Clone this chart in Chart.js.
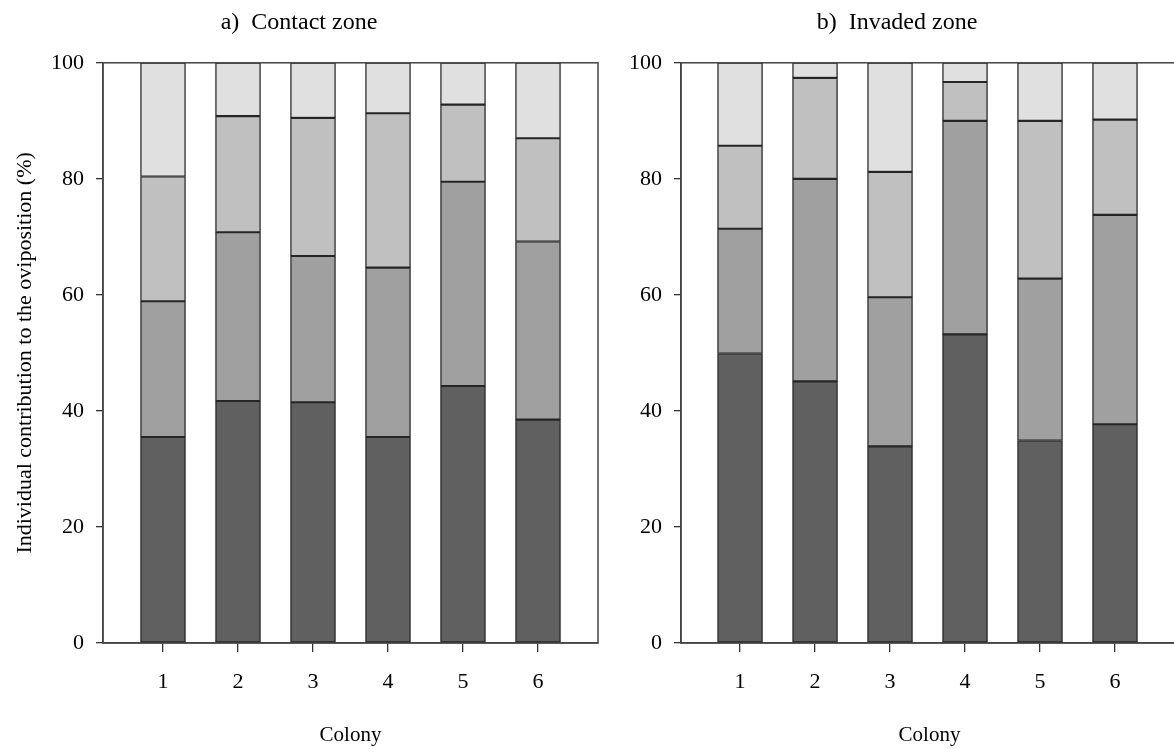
<!DOCTYPE html>
<html>
<head>
<meta charset="utf-8">
<script src="https://cdn.jsdelivr.net/npm/chart.js@4.4.1/dist/chart.umd.min.js"></script>
<style>
  html, body { margin: 0; padding: 0; background: #fff; overflow: hidden; }
  body { width: 1174px; height: 749px; position: relative; }
  .panel { position: absolute; top: 0; height: 749px; }
  #left { left: 0; width: 616px; }
  #right { left: 616px; width: 590px; }
</style>
</head>
<body>
<div class="panel" id="left"><canvas id="contact"></canvas></div>
<div class="panel" id="right"><canvas id="invaded"></canvas></div>
<script>
// colonies on the x axis
var colonies = ['1', '2', '3', '4', '5', '6'];
var yTicks = [0, 20, 40, 60, 80, 100];

// a) contact zone - share of each individual (bottom to top), in %
var contactFirst  = [35.5, 41.7, 41.5, 35.5, 44.3, 38.5];
var contactSecond = [23.4, 29.1, 25.2, 29.2, 35.2, 30.7];
var contactThird  = [21.5, 20.0, 23.8, 26.6, 13.3, 17.8];
var contactFourth = [19.6,  9.2,  9.5,  8.7,  7.2, 13.0];

// b) invaded zone
var invadedFirst  = [49.9, 45.1, 33.9, 53.2, 34.9, 37.7];
var invadedSecond = [21.5, 34.9, 25.7, 36.8, 27.9, 36.1];
var invadedThird  = [14.3, 17.4, 21.6,  6.7, 27.2, 16.4];
var invadedFourth = [14.3,  2.6, 18.8,  3.3, 10.0,  9.8];

var shades = ['#606060', '#a0a0a0', '#c0c0c0', '#e0e0e0'];
var edge = '#262626';
var serif = 'Liberation Serif, Times New Roman, serif';

// draws the box round the plot area
var framePlugin = {
  id: 'frame',
  afterDraw: function(chart) {
    var a = chart.chartArea, ctx = chart.ctx;
    ctx.save();
    ctx.strokeStyle = '#444';
    ctx.lineWidth = 1.5;
    ctx.strokeRect(a.left, a.top, a.right - a.left, a.bottom - a.top);
    ctx.restore();
  }
};

function makeSets(series) {
  return series.map(function(vals, i) {
    return {
      data: vals,
      backgroundColor: shades[i],
      borderColor: edge,
      borderWidth: 1.4,
      borderSkipped: false,
      barThickness: 45
    };
  });
}

function makeChart(id, title, series, opts) {
  var ctx = document.getElementById(id).getContext('2d');
  return new Chart(ctx, {
    type: 'bar',
    data: { labels: colonies, datasets: makeSets(series) },
    plugins: [framePlugin],
    options: {
      responsive: true,
      maintainAspectRatio: false,
      animation: false,
      layout: { padding: { left: 0, right: opts.padRight, top: 0, bottom: 0 } },
      plugins: {
        legend: { display: false },
        tooltip: { enabled: false },
        title: {
          display: true,
          text: title,
          color: '#000',
          font: { family: serif, size: 24, weight: 'normal' },
          padding: { top: 8, bottom: 26 }
        }
      },
      scales: {
        x: {
          type: 'linear',
          stacked: true,
          offset: false,
          min: opts.xMin,
          max: opts.xMax,
          afterBuildTicks: function(scale) {
            scale.ticks = colonies.map(function(c) { return { value: +c }; });
          },
          afterFit: function(scale) { scale.height = 106; },
          ticks: {
            color: '#000',
            font: { family: serif, size: 22 },
            padding: 17,
            callback: function(v) { return String(v); }
          },
          grid: { drawOnChartArea: false, offset: false, tickLength: 9, color: '#333', lineWidth: 1.3 },
          border: { color: '#444', width: 1.5 },
          title: {
            display: true,
            text: 'Colony',
            color: '#000',
            font: { family: serif, size: 21 },
            padding: { top: 0, bottom: 1 }
          }
        },
        y: {
          stacked: true,
          min: 0,
          max: 100,
          afterBuildTicks: function(scale) {
            scale.ticks = yTicks.map(function(v) { return { value: v }; });
          },
          afterFit: function(scale) { scale.width = opts.yWidth; },
          ticks: {
            color: '#000',
            font: { family: serif, size: 22 },
            padding: 12
          },
          grid: { drawOnChartArea: false, tickLength: 7, color: '#333', lineWidth: 1.3 },
          border: { color: '#444', width: 1.5 },
          title: {
            display: opts.yTitle !== '',
            text: opts.yTitle,
            color: '#000',
            font: { family: serif, size: 22 },
            padding: { top: 12, bottom: 0 }
          }
        }
      }
    }
  });
}

makeChart('contact', 'a)  Contact zone',
  [contactFirst, contactSecond, contactThird, contactFourth],
  { xMin: 0.2, xMax: 6.8, yWidth: 103, padRight: 18,
    yTitle: 'Individual contribution to the oviposition (%)' });

makeChart('invaded', 'b)  Invaded zone',
  [invadedFirst, invadedSecond, invadedThird, invadedFourth],
  { xMin: 0.213, xMax: 6.84, yWidth: 65, padRight: 28, yTitle: '' });
</script>
</body>
</html>
